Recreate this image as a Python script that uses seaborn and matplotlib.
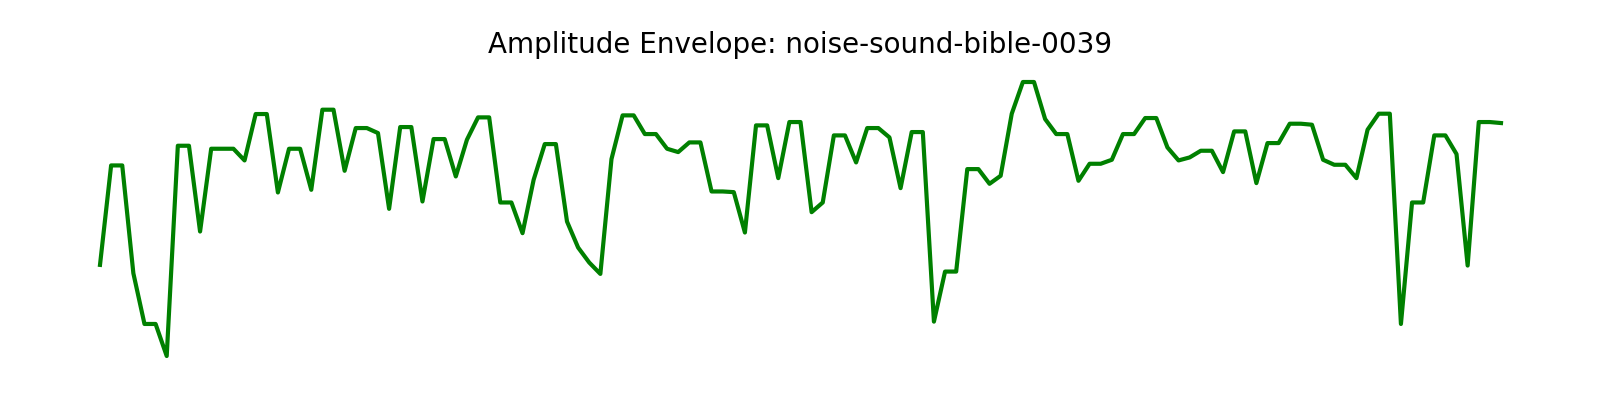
import numpy as np
import pandas as pd
import seaborn as sns
import matplotlib.pyplot as plt
plt.switch_backend('Agg')

TITLE = "Amplitude Envelope: noise-sound-bible-0039"

# envelope values per frame
envelope = [
    0.315, 0.613, 0.613, 0.290, 0.138, 0.138, 0.042, 0.672, 0.672, 0.415,
    0.663, 0.663, 0.663, 0.628, 0.767, 0.767, 0.532, 0.663, 0.663, 0.540,
    0.780, 0.780, 0.597, 0.725, 0.725, 0.710, 0.483, 0.728, 0.728, 0.505,
    0.692, 0.692, 0.580, 0.690, 0.757, 0.757, 0.502, 0.502, 0.410, 0.570,
    0.677, 0.677, 0.445, 0.367, 0.322, 0.288, 0.632, 0.763, 0.763, 0.707,
    0.707, 0.663, 0.653, 0.682, 0.682, 0.535, 0.535, 0.533, 0.412, 0.733,
    0.733, 0.575, 0.743, 0.743, 0.473, 0.502, 0.703, 0.703, 0.622, 0.725,
    0.725, 0.697, 0.545, 0.713, 0.713, 0.145, 0.295, 0.295, 0.602, 0.602,
    0.558, 0.582, 0.768, 0.863, 0.863, 0.752, 0.707, 0.707, 0.567, 0.618,
    0.618, 0.630, 0.707, 0.707, 0.755, 0.755, 0.667, 0.628, 0.637, 0.657,
    0.657, 0.593, 0.715, 0.715, 0.560, 0.680, 0.680, 0.738, 0.738, 0.735,
    0.630, 0.615, 0.615, 0.575, 0.720, 0.768, 0.768, 0.138, 0.502, 0.502,
    0.703, 0.703, 0.647, 0.313, 0.743, 0.743, 0.740,
]
frames = np.arange(len(envelope))

df = pd.DataFrame({'frame': frames, 'amplitude': envelope})

fig = plt.figure(figsize=(16, 4), dpi=100)
ax = fig.add_axes([100 / 1600, 44 / 400, 1401 / 1600, 274 / 400])
sns.lineplot(data=df, x='frame', y='amplitude', color='green',
             linewidth=3, ax=ax, clip_on=False)
ax.set_xlim(frames[0], frames[-1])
ax.set_ylim(min(envelope), max(envelope))
ax.axis('off')
fig.suptitle(TITLE, fontsize=20, y=0.9225)
fig.savefig('out.png', dpi=100)
